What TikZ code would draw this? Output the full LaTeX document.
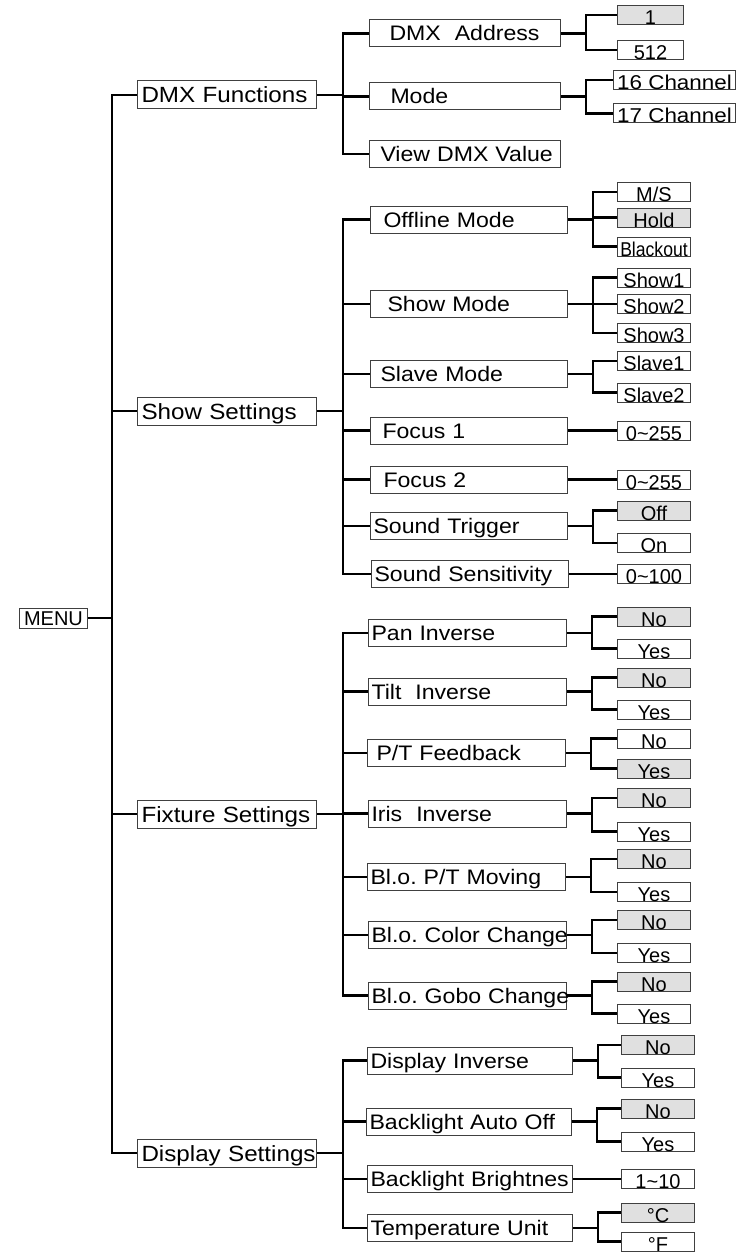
\documentclass[tikz,border=0pt]{standalone}
\usepackage{fontspec}
\setmainfont{Liberation Sans}
\newfontfamily\labelfont{Liberation Sans}[FakeStretch=1.1]
\newfontfamily\widefont{Liberation Sans}[FakeStretch=1.12]
\newfontfamily\narrowfont{Liberation Sans}[FakeStretch=0.88]
\usepackage{tikz}
\usetikzlibrary{positioning}
\hyphenpenalty=10000

\begin{document}
\begin{tikzpicture}[
  x=1pt, y=-1pt,
  boxbase/.style={draw=black!75, line width=1pt, anchor=west, inner ysep=0pt},
  menubox/.style={boxbase, minimum width=68pt, minimum height=20pt, inner xsep=0pt, text height=14pt, text depth=0pt, font=\fontsize{20}{22}\selectfont},
  catbox/.style={boxbase, text width=171pt, inner xsep=4pt, align=left, text height=16pt, text depth=0pt, inner ysep=6pt, font=\labelfont\fontsize{22}{24}\selectfont},
  itembox/.style={boxbase, text width=#1, inner xsep=3pt, align=left, text height=15pt, text depth=0pt, inner ysep=6pt, font=\labelfont\fontsize{21}{24}\selectfont},
  valbox/.style={boxbase, minimum width=73pt, inner xsep=0pt, text height=19pt, text depth=0pt, font=\fontsize{20}{22}\selectfont},
  chanbox/.style={valbox, minimum width=122pt, font=\widefont\fontsize{20}{22}\selectfont},
  sel/.style={fill=black!12},
  link/.style={line width=2.2pt}
]
\useasboundingbox (0,0) rectangle (745,1252);

% Root and main menus
\node[menubox] (menu) at (19,618) {MENU};
\node[catbox] (dmx) at (137,95) {DMX~Functions};
\node[catbox] (show) at (137,411) {Show~Settings};
\node[catbox] (fixture) at (137,814) {Fixture~Settings};
\node[catbox] (display) at (137,1153) {Display~Settings};

% DMX Functions
\node[itembox=185pt] (addr) at (369,33.5) {\hspace*{17pt}DMX~~Address};
\node[itembox=185pt] (mode) at (369,96.5) {\hspace*{18pt}Mode};
\node[itembox=185pt] (view) at (369,154) {\hspace*{8pt}View~DMX~Value};
\node[valbox, sel, minimum width=66pt] (addr1) at (617,15) {1};
\node[valbox, minimum width=66pt] (addr512) at (617,50) {512};
\node[chanbox] (ch16) at (613,80) {16 Channel};
\node[chanbox] (ch17) at (613,113.5) {17 Channel};

% Show Settings
\node[itembox=191pt] (offline) at (370,219.5) {\hspace*{10pt}Offline~Mode};
\node[itembox=191pt] (showmode) at (370,304) {\hspace*{14pt}Show~Mode};
\node[itembox=191pt] (slave) at (370,374) {\hspace*{7pt}Slave~Mode};
\node[itembox=191pt] (focusa) at (370,430.5) {\hspace*{9pt}Focus~1};
\node[itembox=191pt] (focusb) at (370,479.5) {\hspace*{10pt}Focus~2};
\node[itembox=191pt] (trigger) at (370,526) {Sound~Trigger};
\node[itembox=191pt] (sens) at (371,574) {Sound~Sensitivity};
\node[valbox] (ms) at (617,192) {M/S};
\node[valbox, sel] (hold) at (617,217.5) {Hold};
\node[valbox] (blackout) at (617,246.5) {\narrowfont Blackout};
\node[valbox] (show1) at (617,277.5) {Show1};
\node[valbox] (show2) at (617,304) {Show2};
\node[valbox] (show3) at (617,333) {Show3};
\node[valbox] (slave1) at (617,361) {Slave1};
\node[valbox] (slave2) at (617,392.5) {Slave2};
\node[valbox] (focusaval) at (617,430.5) {0\textasciitilde255};
\node[valbox] (focusbval) at (617,479.5) {0\textasciitilde255};
\node[valbox, sel] (trigoff) at (617,510.5) {Off};
\node[valbox] (trigon) at (617,543) {On};
\node[valbox] (sensval) at (617,574) {0\textasciitilde100};

% Fixture Settings
\node[itembox=192pt] (pan) at (368,633) {Pan~Inverse};
\node[itembox=192pt] (tilt) at (368,691.5) {Tilt~~Inverse};
\node[itembox=192pt] (feedback) at (367,753) {\hspace*{6pt}P/T~Feedback};
\node[itembox=192pt] (iris) at (368,813.5) {Iris~~Inverse};
\node[itembox=192pt] (moving) at (367,877) {Bl.o.~P/T~Moving};
\node[itembox=192pt] (color) at (368,935) {Bl.o.~Color~Change};
\node[itembox=192pt] (gobo) at (368,995.5) {Bl.o.~Gobo~Change};
\node[valbox, sel] (panno) at (617,616.5) {No};
\node[valbox] (panyes) at (617,648.5) {Yes};
\node[valbox, sel] (tiltno) at (617,677.5) {No};
\node[valbox] (tiltyes) at (617,709.5) {Yes};
\node[valbox] (fbno) at (617,738.5) {No};
\node[valbox, sel] (fbyes) at (617,768.5) {Yes};
\node[valbox, sel] (irisno) at (617,798) {No};
\node[valbox] (irisyes) at (617,831.5) {Yes};
\node[valbox, sel] (movno) at (617,859) {No};
\node[valbox] (movyes) at (617,892) {Yes};
\node[valbox, sel] (colno) at (617,920) {No};
\node[valbox] (colyes) at (617,953) {Yes};
\node[valbox, sel] (gobno) at (617,981.5) {No};
\node[valbox] (gobyes) at (617,1013.5) {Yes};

% Display Settings
\node[itembox=199pt] (dispinv) at (367,1060.5) {Display~Inverse};
\node[itembox=199pt] (autooff) at (366,1121.5) {Backlight~Auto~Off};
\node[itembox=199pt] (bright) at (367,1179) {Backlight~Brightnes};
\node[itembox=199pt] (temp) at (367,1228) {Temperature~Unit};
\node[valbox, sel] (dinvno) at (621,1045) {No};
\node[valbox] (dinvyes) at (621,1077.5) {Yes};
\node[valbox, sel] (offno) at (621,1108.5) {No};
\node[valbox] (offyes) at (621,1141.5) {Yes};
\node[valbox] (brightval) at (621,1179) {1\textasciitilde10};
\node[valbox, sel] (tempc) at (621,1212.5) {°C};
\node[valbox] (tempf) at (621,1241.5) {°F};

% Connectors
\foreach \c in {dmx,show,fixture,display}
  \draw[link] (menu.east) -- ++(24,0) |- (\c.west);
\foreach \c in {addr,mode,view}
  \draw[link] (dmx.east) -- ++(26,0) |- (\c.west);
\foreach \c in {offline,showmode,slave,focusa,focusb,trigger,sens}
  \draw[link] (show.east) -- ++(26,0) |- (\c.west);
\foreach \c in {pan,tilt,feedback,iris,moving,color,gobo}
  \draw[link] (fixture.east) -- ++(26,0) |- (\c.west);
\foreach \c in {dispinv,autooff,bright,temp}
  \draw[link] (display.east) -- ++(26,0) |- (\c.west);

\foreach \p/\c in {addr/addr1, addr/addr512, mode/ch16, mode/ch17,
    offline/ms, offline/hold, offline/blackout,
    showmode/show1, showmode/show2, showmode/show3,
    slave/slave1, slave/slave2, focusa/focusaval, focusb/focusbval,
    trigger/trigoff, trigger/trigon, sens/sensval,
    pan/panno, pan/panyes, tilt/tiltno, tilt/tiltyes,
    feedback/fbno, feedback/fbyes, iris/irisno, iris/irisyes,
    moving/movno, moving/movyes, color/colno, color/colyes,
    gobo/gobno, gobo/gobyes,
    dispinv/dinvno, dispinv/dinvyes, autooff/offno, autooff/offyes,
    bright/brightval, temp/tempc, temp/tempf}
  \draw[link] (\p.east) -- ++(25,0) |- (\c.west);
\end{tikzpicture}
\end{document}
